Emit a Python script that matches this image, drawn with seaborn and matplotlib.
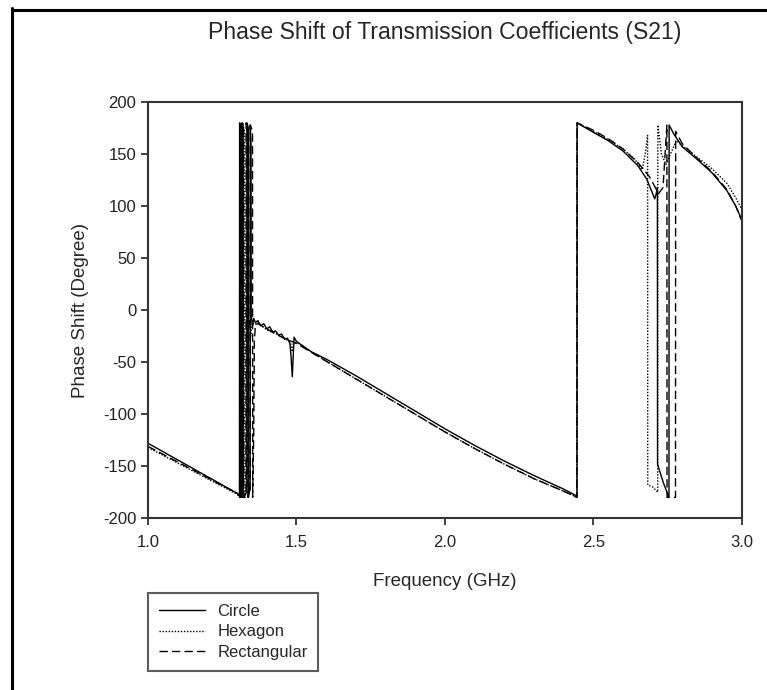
import matplotlib
matplotlib.use("Agg")
import matplotlib.pyplot as plt
from matplotlib.lines import Line2D
import pandas as pd
import seaborn as sns

# phase of S21, (GHz, degree)
circle_freq = [1.000, 1.100, 1.200, 1.300, 1.308, 1.3085, 1.312, 1.3125, 1.316, 1.3165,
               1.320, 1.3205, 1.333, 1.3335, 1.338, 1.3385, 1.344, 1.3445, 1.347, 1.3475,
               1.352, 1.356, 1.362, 1.370, 1.380, 1.390, 1.400, 1.410, 1.420, 1.430,
               1.440, 1.450, 1.460, 1.470, 1.478, 1.482, 1.486, 1.489, 1.492, 1.500,
               1.520, 1.550, 1.600, 1.700, 1.800, 1.900, 2.000, 2.100, 2.200, 2.300,
               2.400, 2.440, 2.445, 2.4455, 2.500, 2.550, 2.600, 2.650, 2.680, 2.700,
               2.707, 2.712, 2.716, 2.7165, 2.735, 2.755, 2.7555, 2.770, 2.800, 2.850,
               2.900, 2.950, 2.980, 3.000]
circle_phase = [-128, -144, -160, -176, -179, 180, 172, -180, -176, 180,
                170, -180, -175, 180, 175, -180, -170, 178, 160, -5,
                -15, -8, -12, -10, -15, -13, -18, -16, -21, -20,
                -24, -23, -28, -27, -32, -45, -64, -45, -26, -30,
                -34, -40, -47, -63, -80, -97, -114, -130, -145, -159,
                -172, -178, -180, 180, 171, 163, 153, 139, 126, 112,
                107, 112, 118, -148, -165, -180, 178, 170, 157, 145,
                132, 115, 100, 87]

hexagon_freq = [1.000, 1.100, 1.200, 1.300, 1.310, 1.3105, 1.314, 1.3145, 1.320, 1.3205,
                1.326, 1.3265, 1.332, 1.3325, 1.336, 1.3365, 1.342, 1.346, 1.350, 1.360,
                1.370, 1.400, 1.450, 1.480, 1.486, 1.490, 1.500, 1.600, 1.700, 1.800,
                1.900, 2.000, 2.100, 2.200, 2.300, 2.400, 2.445, 2.4455, 2.500, 2.550,
                2.600, 2.640, 2.665, 2.675, 2.683, 2.6835, 2.700, 2.717, 2.7175, 2.730,
                2.745, 2.760, 2.780, 2.800, 2.850, 2.900, 2.950, 2.980, 3.000]
hexagon_phase = [-132, -147, -162, -177, -180, 180, 176, -180, -175, 178,
                 170, -180, -172, 175, 168, -20, -10, -25, -12, -14,
                 -12, -19, -25, -31, -40, -32, -31, -49, -66, -83,
                 -100, -117, -133, -148, -162, -174, -180, 180, 172, 164,
                 155, 145, 135, 150, 168, -168, -170, -175, 178, 150,
                 140, 150, 163, 158, 147, 136, 122, 108, 97]

rect_freq = [1.000, 1.100, 1.200, 1.300, 1.318, 1.3185, 1.322, 1.3225, 1.330, 1.3305,
             1.336, 1.3365, 1.344, 1.3445, 1.352, 1.3525, 1.356, 1.358, 1.362, 1.370,
             1.400, 1.450, 1.500, 1.600, 1.700, 1.800, 1.900, 2.000, 2.100, 2.200,
             2.300, 2.400, 2.445, 2.4455, 2.500, 2.550, 2.600, 2.650, 2.690, 2.720,
             2.735, 2.748, 2.7485, 2.777, 2.7775, 2.800, 2.850, 2.900, 2.950, 2.980,
             3.000]
rect_phase = [-131, -146, -161, -176, -180, 180, 174, -180, -176, 180,
              170, -180, -172, 178, 172, -180, -120, -30, -14, -13,
              -18, -26, -32, -49, -66, -83, -100, -117, -133, -148,
              -162, -174, -180, 180, 173, 165, 155, 142, 128, 112,
              118, 178, -180, -180, 172, 160, 146, 133, 116, 100,
              86]

series_names = ["Circle", "Hexagon", "Rectangular"]
x_ticks = [1.0, 1.5, 2.0, 2.5, 3.0]
y_ticks = [-200, -150, -100, -50, 0, 50, 100, 150, 200]

frames = []
for name, f, p in zip(series_names,
                      [circle_freq, hexagon_freq, rect_freq],
                      [circle_phase, hexagon_phase, rect_phase]):
    frames.append(pd.DataFrame({"freq": f, "phase": p, "shape": name}))
df = pd.concat(frames, ignore_index=True)

sns.set_theme(style="ticks")
plt.rcParams['font.family'] = ['Liberation Sans', 'DejaVu Sans']
plt.rcParams['axes.unicode_minus'] = False

fig = plt.figure(figsize=(7.67, 6.90), dpi=100)
ax = fig.add_axes([0.193, 0.249, 0.774, 0.603])

line_dashes = {"Circle": "", "Hexagon": (1, 1.2), "Rectangular": (6, 3)}
sns.lineplot(data=df, x="freq", y="phase", hue="shape", style="shape",
             palette={n: "black" for n in series_names}, dashes=line_dashes,
             sort=False, estimator=None, linewidth=1.0, legend=False, ax=ax)

ax.set_xlim(1.0, 3.0)
ax.set_ylim(-200, 200)
ax.set_xticks(x_ticks)
ax.set_xticklabels([f"{t:.1f}" for t in x_ticks])
ax.set_yticks(y_ticks)
ax.tick_params(direction="out", length=5, width=1.2, labelsize=12, colors="#222222")
ax.tick_params(axis="x", pad=7)
for side in ax.spines.values():
    side.set_visible(True)
    side.set_linewidth(1.5)
    side.set_color("#333333")

ax.set_xlabel("Frequency (GHz)", fontsize=13.5, labelpad=17)
ax.set_ylabel("Phase Shift (Degree)", fontsize=13.5, labelpad=10)
fig.text(0.58, 0.953, "Phase Shift of Transmission Coefficients (S21)",
         fontsize=16.6, ha="center", va="center")

handles = [Line2D([], [], color="black", lw=1.0, linestyle="-"),
           Line2D([], [], color="black", lw=1.0, dashes=line_dashes["Hexagon"]),
           Line2D([], [], color="black", lw=1.0, dashes=line_dashes["Rectangular"])]
leg = fig.legend(handles, series_names, loc="upper left",
                 bbox_to_anchor=(148 / 767, 1 - 593 / 690), fontsize=12,
                 frameon=True, fancybox=False, borderaxespad=0, handlelength=2.75,
                 labelspacing=0.33, borderpad=0.65, handletextpad=0.75)
leg.get_frame().set_edgecolor("#333333")
leg.get_frame().set_linewidth(1.5)

# page border, top and left edge
fig.add_artist(Line2D([11.5 / 767, 1.0], [1 - 9.5 / 690, 1 - 9.5 / 690],
                      color="black", lw=2.2, transform=fig.transFigure))
fig.add_artist(Line2D([11.5 / 767, 11.5 / 767], [0, 1 - 8 / 690],
                      color="black", lw=2.2, transform=fig.transFigure))

fig.savefig("out.png", dpi=100, facecolor="white")
